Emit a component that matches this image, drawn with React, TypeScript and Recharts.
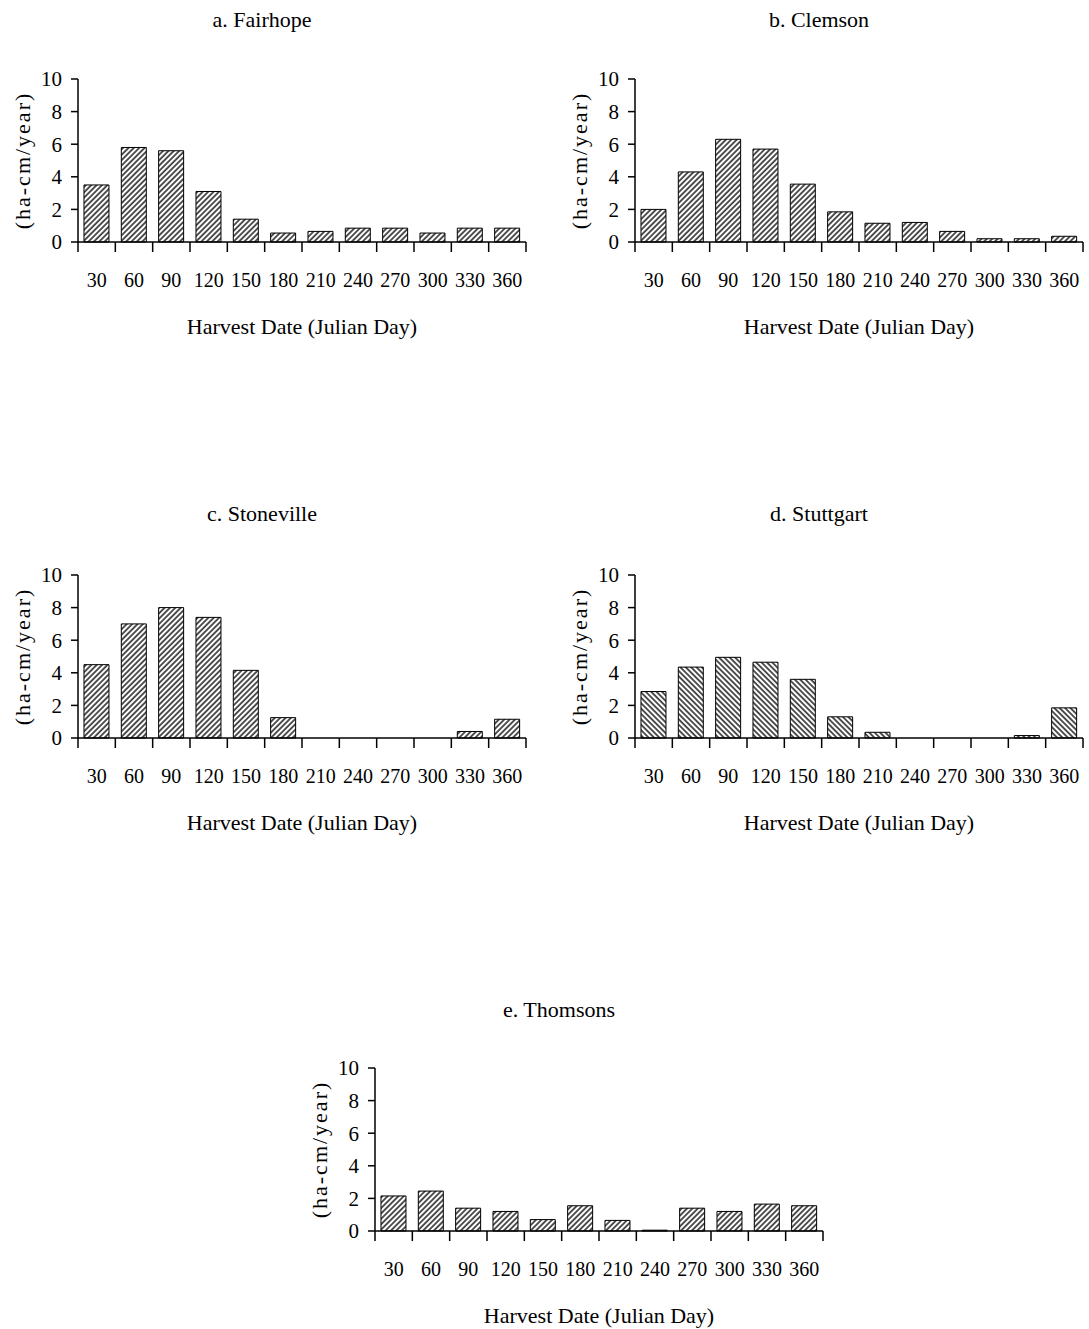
import React from 'react';
import { BarChart, Bar, XAxis, YAxis } from 'recharts';

// Harvest dates (Julian day) shared by every site
const harvestDays = ['30', '60', '90', '120', '150', '180', '210', '240', '270', '300', '330', '360'];

// Values per site, ha-cm/year
const fairhope = [3.5, 5.8, 5.6, 3.1, 1.4, 0.55, 0.65, 0.85, 0.85, 0.55, 0.85, 0.85];
const clemson = [2.0, 4.3, 6.3, 5.7, 3.55, 1.85, 1.15, 1.2, 0.65, 0.2, 0.2, 0.35];
const stoneville = [4.5, 7.0, 8.0, 7.4, 4.15, 1.25, 0, 0, 0, 0, 0.4, 1.15];
const stuttgart = [2.85, 4.35, 4.95, 4.65, 3.6, 1.3, 0.35, 0, 0, 0, 0.15, 1.85];
const thomsons = [2.15, 2.45, 1.4, 1.2, 0.7, 1.55, 0.65, 0.05, 1.4, 1.2, 1.65, 1.55];

const yTicks = [0, 2, 4, 6, 8, 10];

const SERIF = '"Liberation Serif", "Times New Roman", Times, serif';

// Chart geometry
const Y_AXIS_W = 78;
const PLOT_W = 448;
const PLOT_H = 163;
const TOP_PAD = 19;
const RIGHT_PAD = 4;
const X_AXIS_H = 98;
const X_LABEL_LIFT = 6;
const CHART_W = Y_AXIS_W + PLOT_W + RIGHT_PAD;
const CHART_H = TOP_PAD + PLOT_H + X_AXIS_H;
const X_TICK_LEN = 10;
const X_TICK_GAP = 21;

type Panel = {
  id: string;
  title: string;
  values: number[];
  lean: 'right' | 'left';
  left: number;
  top: number;
  titleTop: number;
};

const panels: Panel[] = [
  { id: 'a', title: 'a. Fairhope', values: fairhope, lean: 'right', left: 0, top: 60, titleTop: 7 },
  { id: 'b', title: 'b. Clemson', values: clemson, lean: 'right', left: 557, top: 60, titleTop: 7 },
  { id: 'c', title: 'c. Stoneville', values: stoneville, lean: 'right', left: 0, top: 556, titleTop: 501 },
  { id: 'd', title: 'd. Stuttgart', values: stuttgart, lean: 'left', left: 557, top: 556, titleTop: 501 },
  { id: 'e', title: 'e. Thomsons', values: thomsons, lean: 'right', left: 297, top: 1049, titleTop: 997 },
];

// Category tick: label at the band centre, tick marks on the band edges
function DayTick(props: any) {
  const { x, y, payload, index, visibleTicksCount } = props;
  const half = typeof payload?.offset === 'number' && payload.offset > 0
    ? payload.offset
    : PLOT_W / harvestDays.length / 2;
  const axisY = y - X_TICK_LEN - X_TICK_GAP;
  const last = index === visibleTicksCount - 1;
  return (
    <g>
      <line x1={x - half} x2={x - half} y1={axisY} y2={axisY + X_TICK_LEN} stroke="#000" strokeWidth={1.5} />
      {last && (
        <line x1={x + half} x2={x + half} y1={axisY} y2={axisY + X_TICK_LEN} stroke="#000" strokeWidth={1.5} />
      )}
      <text x={x} y={y} dy="0.71em" textAnchor="middle" fontSize={20} fontFamily={SERIF} fill="#000">
        {payload.value}
      </text>
    </g>
  );
}

function YValueLabel(props: any) {
  const { viewBox } = props;
  const cx = viewBox.x + 22;
  const cy = viewBox.y + viewBox.height / 2;
  return (
    <text
      x={cx}
      y={cy}
      transform={`rotate(-90 ${cx} ${cy})`}
      textAnchor="middle"
      dominantBaseline="central"
      fontSize={22}
      letterSpacing={2}
      fontFamily={SERIF}
      fill="#000"
    >
      (ha-cm/year)
    </text>
  );
}

function XDateLabel(props: any) {
  const { viewBox } = props;
  return (
    <text
      x={viewBox.x + viewBox.width / 2}
      y={viewBox.y + viewBox.height - X_LABEL_LIFT}
      textAnchor="middle"
      fontSize={22}
      fontFamily={SERIF}
      fill="#000"
    >
      Harvest Date (Julian Day)
    </text>
  );
}

function SitePanel({ panel }: { panel: Panel }) {
  const data = harvestDays.map((day, i) => ({ day, value: panel.values[i] }));
  const patternId = `hatch-${panel.id}`;
  return (
    <>
      <div
        style={{
          position: 'absolute',
          left: panel.left + Y_AXIS_W + 184 - 150,
          top: panel.titleTop,
          width: 300,
          textAlign: 'center',
          fontFamily: SERIF,
          fontSize: 22,
          lineHeight: '26px',
          color: '#000',
        }}
      >
        {panel.title}
      </div>
      <div style={{ position: 'absolute', left: panel.left, top: panel.top }}>
        <BarChart
          width={CHART_W}
          height={CHART_H}
          data={data}
          margin={{ top: TOP_PAD, right: RIGHT_PAD, bottom: 0, left: 0 }}
          barCategoryGap="16%"
        >
          <defs>
            <pattern
              id={patternId}
              patternUnits="userSpaceOnUse"
              width={3.8}
              height={10}
              patternTransform={`rotate(${panel.lean === 'right' ? 45 : -45})`}
            >
              <rect width={3.8} height={10} fill="#fff" />
              <line x1={1} y1={0} x2={1} y2={10} stroke="#2a2a2a" strokeWidth={1.6} />
            </pattern>
          </defs>
          <XAxis
            dataKey="day"
            type="category"
            interval={0}
            height={X_AXIS_H}
            tickSize={X_TICK_LEN}
            tickMargin={X_TICK_GAP}
            tickLine={{ stroke: 'none' }}
            axisLine={{ stroke: '#000', strokeWidth: 1.5 }}
            tick={<DayTick />}
            label={<XDateLabel />}
          />
          <YAxis
            width={Y_AXIS_W}
            type="number"
            domain={[0, 10]}
            ticks={yTicks}
            interval={0}
            tickSize={7}
            tickMargin={9}
            tickLine={{ stroke: '#000', strokeWidth: 1.5 }}
            axisLine={{ stroke: '#000', strokeWidth: 1.5 }}
            tick={{ fill: '#000', fontSize: 21, fontFamily: SERIF }}
            label={<YValueLabel />}
          />
          <Bar
            dataKey="value"
            fill={`url(#${patternId})`}
            stroke="#000"
            strokeWidth={1}
            isAnimationActive={false}
          />
        </BarChart>
      </div>
    </>
  );
}

export default function App() {
  return (
    <div style={{ position: 'absolute', left: 0, top: 0, width: 1089, height: 1329, background: '#fff' }}>
      {panels.map((p) => (
        <SitePanel key={p.id} panel={p} />
      ))}
    </div>
  );
}
